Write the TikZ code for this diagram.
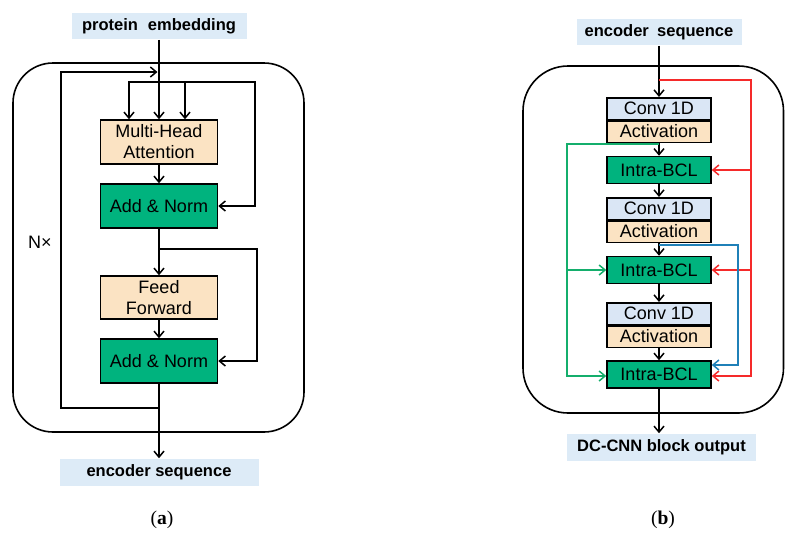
\documentclass[tikz,border=0pt]{standalone}
\usepackage{fontspec}
\setmainfont{Liberation Sans}
\newfontfamily\capfont{Liberation Serif}
\usetikzlibrary{arrows.meta}

\definecolor{lblblue}{HTML}{DDEBF7}
\definecolor{convblue}{HTML}{DAE6F5}
\definecolor{peach}{HTML}{FBE3C3}
\definecolor{normgreen}{HTML}{00B37E}
\definecolor{redline}{HTML}{F52A2A}
\definecolor{greenline}{HTML}{14AE6C}
\definecolor{blueline}{HTML}{1F80B8}

\begin{document}
\begin{tikzpicture}[x=1pt, y=-1pt, line width=1.5pt,
  >={Straight Barb[length=6pt,width=10pt]},
  lbl/.style={fill=lblblue, inner sep=0pt, font=\fontsize{16.5}{19}\selectfont\bfseries},
  blk/.style={draw, line width=1.5pt, inner sep=0pt, minimum width=117pt, align=center, font=\fontsize{18}{21}\selectfont},
  cbox/.style={blk, anchor=north, minimum width=104pt, minimum height=21.5pt},
  ibox/.style={blk, fill=normgreen, minimum width=104pt, minimum height=27pt},
  subcap/.style={font=\capfont\fontsize{19.5}{22}\selectfont}]
\useasboundingbox (0,0) rectangle (785,533);

% (a) encoder layer
\draw [line width=1.6pt, rounded corners=40pt] (13,63) rectangle (304,432);
\node [lbl, minimum width=175pt, minimum height=26pt] (pe) at (159,26) {protein\hspace{0.6em}embedding};
\node [blk, fill=peach, minimum height=44pt] (mha) at (159,142) {Multi-Head\\Attention};
\node [blk, fill=normgreen, minimum height=44pt] (an1) at (159,206) {Add \& Norm};
\node [blk, fill=peach, minimum height=43pt] (ff) at (159,297.5) {Feed\\Forward};
\node [blk, fill=normgreen, minimum height=44pt] (an2) at (159,361) {Add \& Norm};
\node [lbl, minimum width=199pt, minimum height=27pt] (esa) at (159,472.5) {encoder sequence};
\node [font=\fontsize{18}{20}\selectfont] (nx) at (40,242) {N×};
\node [subcap] (capa) at (162,520) {(\textbf{a})};

\coordinate (loopin) at (159,72);
\coordinate (loopout) at (159,408);
\coordinate (qkv) at (159,82);
\coordinate (res) at (159,249);

\draw [->] (pe) -- (mha);
\draw [->] (loopout) -- ++(-98,0) |- ([xshift=-1.5pt]loopin);
\draw [->] (qkv) -| ([xshift=-30pt]mha.north);
\draw [->] (qkv) -| ([xshift=26pt]mha.north);
\draw [->] (qkv) -- ++(96,0) |- (an1.east);
\draw [->] (mha) -- (an1);
\draw [->] (an1) -- (ff);
\draw [->] (res) -- ++(98,0) |- (an2.east);
\draw [->] (ff) -- (an2);
\draw [->] (an2) -- (esa);

% (b) DC-CNN block
\draw [line width=1.6pt, rounded corners=45pt] (523,66) rectangle (783.5,413);
\node [lbl, minimum width=165pt, minimum height=26pt] (esb) at (659,32) {encoder\hspace{0.5em}sequence};
\node [cbox, fill=convblue] (c1) at (659,97) {Conv 1D};
\node [cbox, fill=peach] (a1) at (c1.south) {Activation};
\node [ibox] (ib1) at (659,170) {Intra-BCL};
\node [cbox, fill=convblue] (c2) at (659,197) {Conv 1D};
\node [cbox, fill=peach] (a2) at (c2.south) {Activation};
\node [ibox] (ib2) at (659,270) {Intra-BCL};
\node [cbox, fill=convblue] (c3) at (659,302) {Conv 1D};
\node [cbox, fill=peach] (a3) at (c3.south) {Activation};
\node [ibox] (ib3) at (659,374.5) {Intra-BCL};
\node [lbl, minimum width=189pt, minimum height=27pt] (out) at (661.5,447.5) {DC-CNN block output};
\node [subcap] (capb) at (663,520) {(\textbf{b})};

\coordinate (rsplit) at (659,80);
\coordinate (gsplit) at (659,144);
\coordinate (bsplit) at (659,245);

\draw [->] (esb) -- (c1);
\draw [->] (a1) -- (ib1);
\draw [->] (ib1) -- (c2);
\draw [->] (a2) -- (ib2);
\draw [->] (ib2) -- (c3);
\draw [->] (a3) -- (ib3);
\draw [->] (ib3) -- (ib3 |- out.north);

% dense skip connections
\draw [->, redline] (rsplit) -- ++(92,0) coordinate (rc) |- ([yshift=-1.5pt]ib3.east);
\draw [->, redline] (rc |- ib1.east) -- (ib1.east);
\draw [->, redline] (rc |- ib2.east) -- (ib2.east);
\draw [->, greenline] (gsplit) -- ++(-92,0) coordinate (gc) |- ([yshift=-1.5pt]ib3.west);
\draw [->, greenline] (gc |- ib2.west) -- (ib2.west);
\draw [->, blueline] (bsplit) -- ++(79,0) |- ([yshift=9.5pt]ib3.east);
\end{tikzpicture}
\end{document}
